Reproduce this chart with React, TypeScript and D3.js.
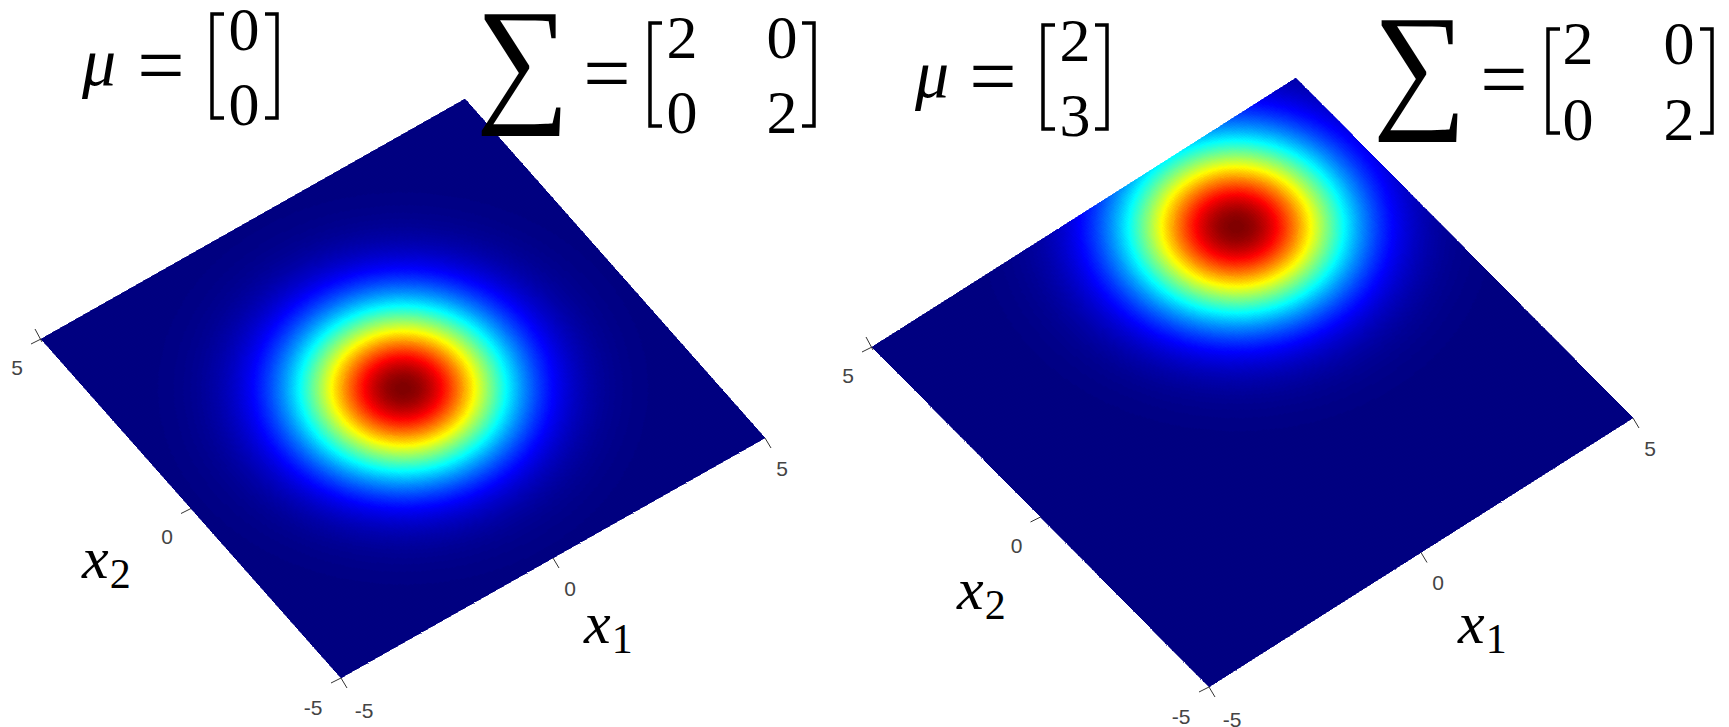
import React, { useMemo } from "react";
import * as d3 from "d3";

// ---- data ----
const muLeft = [0, 0];
const muRight = [2, 3];
const sigmaMatrix = [2, 0, 0, 2];
const axisTicks = [-5, 0, 5];
const gridDomain: [number, number] = [-5, 5];

// ---- layout ----
const W = 1729, H = 727, N = 240, LEVELS = 256;
const SERIF = "'Liberation Serif', serif";
const SANS = "'Liberation Sans', Arial, sans-serif";

const panels = [
  {
    mu: muLeft, B: [341, 678], R: [765, 438], L: [41, 339],
    muX: 82, muY: 85, eq1: [161, 94], br1: [210, 279, 14, 118], muCx: 244, muY0: 50, muY1: 125,
    sumC: [523, 106], eq2: [607, 102], br2: [648, 816, 23, 126], cx0: 682, cx1: 782, rowY0: 58, rowY1: 133,
    x2Lab: [82, 578], x1Lab: [584, 643],
  },
  {
    mu: muRight, B: [1209, 687], R: [1633, 418], L: [872, 347],
    muX: 915, muY: 97, eq1: [993, 105], br1: [1041, 1109, 25, 129], muCx: 1075, muY0: 61, muY1: 136,
    sumC: [1420, 112], eq2: [1504, 108], br2: [1546, 1714, 29, 133], cx0: 1578, cx1: 1679, rowY0: 64, rowY1: 140,
    x2Lab: [957, 609], x1Lab: [1458, 643],
  },
];

const jetChannel = (t: number) => Math.max(0, Math.min(1, 1.5 - Math.abs(t)));
const jet = (v: number) =>
  d3.rgb(
    255 * jetChannel(4 * v - 3),
    255 * jetChannel(4 * v - 2),
    255 * jetChannel(4 * v - 1)
  ).formatHex();

function Surface({ p }: { p: (typeof panels)[number] }) {
  const { paths, sx1, sy1, sx2, sy2 } = useMemo(() => {
    const sx1 = d3.scaleLinear().domain(gridDomain).range([0, p.R[0] - p.B[0]]);
    const sy1 = d3.scaleLinear().domain(gridDomain).range([0, p.R[1] - p.B[1]]);
    const sx2 = d3.scaleLinear().domain(gridDomain).range([0, p.L[0] - p.B[0]]);
    const sy2 = d3.scaleLinear().domain(gridDomain).range([0, p.L[1] - p.B[1]]);
    const g = d3.scaleLinear().domain([0, N]).range(gridDomain);
    const px = (a: number, b: number) => p.B[0] + sx1(a) + sx2(b);
    const py = (a: number, b: number) => p.B[1] + sy1(a) + sy2(b);
    const dens = (a: number, b: number) =>
      Math.exp(
        -((a - p.mu[0]) ** 2 / sigmaMatrix[0] + (b - p.mu[1]) ** 2 / sigmaMatrix[3]) / 2
      );
    const level = d3.scaleQuantize<number>().domain([0, 1]).range(d3.range(LEVELS));
    const buckets: Map<number, d3.Path> = new Map();
    for (let i = 0; i < N; i++) {
      for (let j = 0; j < N; j++) {
        const a0 = g(i), a1 = g(i + 1), b0 = g(j), b1 = g(j + 1);
        const l = level(dens((a0 + a1) / 2, (b0 + b1) / 2));
        if (!buckets.has(l)) buckets.set(l, d3.path());
        const q = buckets.get(l)!;
        q.moveTo(px(a0, b0), py(a0, b0));
        q.lineTo(px(a1, b0), py(a1, b0));
        q.lineTo(px(a1, b1), py(a1, b1));
        q.lineTo(px(a0, b1), py(a0, b1));
        q.closePath();
      }
    }
    const paths = Array.from(buckets, ([l, q]) => ({ l, d: q.toString() }));
    return { paths, sx1, sy1, sx2, sy2 };
  }, [p]);

  const tick = (a: number, b: number) => [
    p.B[0] + sx1(a) + sx2(b),
    p.B[1] + sy1(a) + sy2(b),
  ];
  return (
    <g>
      <g shapeRendering="crispEdges">
        {paths.map((c) => (
          <path key={c.l} d={c.d} fill={jet((c.l + 0.5) / LEVELS)} stroke={jet((c.l + 0.5) / LEVELS)} strokeWidth={0.6} />
        ))}
      </g>
      {axisTicks.map((t) => {
        const [x, y] = tick(t, -5);
        const extra = t === -5 ? [6, 2] : [0, 0];
        return (
          <g key={"a" + t}>
            <line x1={x} y1={y} x2={x + 6} y2={y + 10} stroke="#333" strokeWidth={1} />
            <text x={x + 17 + extra[0]} y={y + 30 + extra[1]} dy="0.36em" textAnchor="middle" fontFamily={SANS} fontSize={21} fill="#444">
              {t}
            </text>
          </g>
        );
      })}
      {axisTicks.map((t) => {
        const [x, y] = tick(-5, t);
        const extra = t === -5 ? [-4, 1] : [0, 0];
        return (
          <g key={"b" + t}>
            <line x1={x} y1={y} x2={x - 10} y2={y + 5} stroke="#333" strokeWidth={1} />
            <text x={x - 24 + extra[0]} y={y + 28 + extra[1]} dy="0.36em" textAnchor="middle" fontFamily={SANS} fontSize={21} fill="#444">
              {t}
            </text>
          </g>
        );
      })}
      <line x1={p.L[0] - 6} y1={p.L[1] - 10} x2={p.L[0] + 1} y2={p.L[1] + 3} stroke="#333" strokeWidth={1} />
    </g>
  );
}

function Bracket({ x0, x1, y0, y1 }: { x0: number; x1: number; y0: number; y1: number }) {
  const serif = 14;
  const l = d3.path();
  l.moveTo(x0 + serif, y0); l.lineTo(x0 + 2, y0); l.lineTo(x0 + 2, y1); l.lineTo(x0 + serif, y1);
  l.moveTo(x1 - serif, y0); l.lineTo(x1 - 2, y0); l.lineTo(x1 - 2, y1); l.lineTo(x1 - serif, y1);
  return <path d={l.toString()} fill="none" stroke="#000" strokeWidth={3.5} />;
}

function Formula({ p }: { p: (typeof panels)[number] }) {
  const T = (x: number, y: number, s: string, fs = 62, anchor: string = "middle", italic = false) => (
    <text x={x} y={y} textAnchor={anchor as any} fontFamily={SERIF} fontSize={fs} fontStyle={italic ? "italic" : "normal"} fill="#000">
      {s}
    </text>
  );
  return (
    <g>
      {T(p.muX, p.muY, "μ", 68, "start", true)}
      {T(p.eq1[0], p.eq1[1], "=", 84)}
      <Bracket x0={p.br1[0]} x1={p.br1[1]} y0={p.br1[2]} y1={p.br1[3]} />
      {T(p.muCx, p.muY0, String(p.mu[0]))}
      {T(p.muCx, p.muY1, String(p.mu[1]))}
      <g transform={`translate(${p.sumC[0]},${p.sumC[1]}) scale(0.94,1)`}>{T(0, 0, "∑", 140)}</g>
      {T(p.eq2[0], p.eq2[1], "=", 84)}
      <Bracket x0={p.br2[0]} x1={p.br2[1]} y0={p.br2[2]} y1={p.br2[3]} />
      {T(p.cx0, p.rowY0, String(sigmaMatrix[0]))}
      {T(p.cx1, p.rowY0, String(sigmaMatrix[1]))}
      {T(p.cx0, p.rowY1, String(sigmaMatrix[2]))}
      {T(p.cx1, p.rowY1, String(sigmaMatrix[3]))}
      <text x={p.x2Lab[0]} y={p.x2Lab[1]} fontFamily={SERIF} fontSize={60} fontStyle="italic" fill="#000">
        x<tspan fontSize={42} fontStyle="normal" dy={10} dx={1}>2</tspan>
      </text>
      <text x={p.x1Lab[0]} y={p.x1Lab[1]} fontFamily={SERIF} fontSize={60} fontStyle="italic" fill="#000">
        x<tspan fontSize={42} fontStyle="normal" dy={10} dx={1}>1</tspan>
      </text>
    </g>
  );
}

export default function App() {
  return (
    <svg width={W} height={H} viewBox={`0 0 ${W} ${H}`} style={{ position: "absolute", left: 0, top: 0, background: "#fff", display: "block" }}>
      {panels.map((p, i) => (
        <g key={i}>
          <Surface p={p} />
          <Formula p={p} />
        </g>
      ))}
    </svg>
  );
}
